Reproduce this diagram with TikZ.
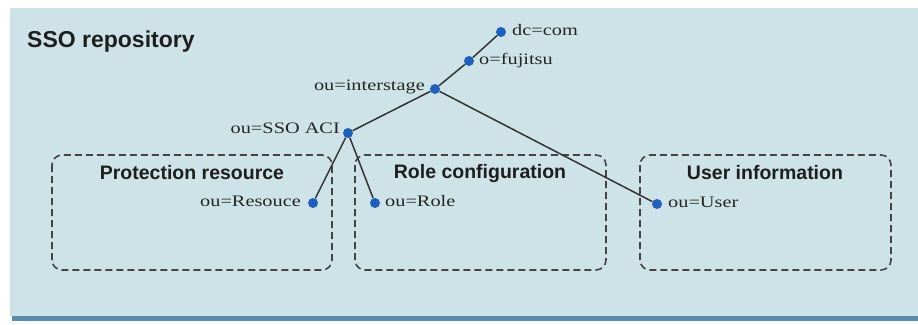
\documentclass[tikz,border=0pt]{standalone}
\usepackage{fontspec}
\setmainfont{Liberation Sans}
\newfontfamily\lblfont[FakeStretch=1.27]{Liberation Serif}
\definecolor{panelblue}{HTML}{CDE3E7}
\definecolor{edgeblue}{HTML}{5A8BB3}
\definecolor{boxgray}{HTML}{444444}
\definecolor{dotblue}{HTML}{1F5FBF}
\definecolor{linegray}{HTML}{333333}
\definecolor{textgray}{HTML}{262626}
\definecolor{titlegray}{HTML}{1E1E1E}
\begin{document}
\begin{tikzpicture}[x=1pt,y=-1pt,
  group/.style={draw=boxgray, line width=1.6pt, dash pattern=on 7pt off 4pt, rounded corners=10pt},
  grouptitle/.style={font=\fontsize{19.5}{22}\selectfont\bfseries, text=titlegray, inner sep=0pt},
  entry/.style={circle, fill=dotblue, inner sep=0pt, minimum size=10pt},
  dn/.style={font=\lblfont\fontsize{16}{18}\selectfont, text=textgray, inner sep=0pt},
  link/.style={draw=linegray, line width=1.5pt}
]
\useasboundingbox (0,0) rectangle (918,324);

% repository panel with its darker lower edge
\fill[edgeblue] (12,314) rectangle (918,321);
\fill[panelblue] (10,8) rectangle (918,316);
\node[font=\fontsize{23}{26}\selectfont\bfseries, text=titlegray, inner sep=0pt, anchor=base west] (repo) at (27,47) {SSO repository};

% dashed groups
\draw[group] (52,155) rectangle (332,270);
\draw[group] (355,155) rectangle (606,270);
\draw[group] (640,155) rectangle (891,270);
\node[grouptitle] (protT) at (192,173) {Protection resource};
\node[grouptitle] (roleT) at (480,173) {Role configuration};
\node[grouptitle] (userT) at (765,173) {User information};

% directory entries
\node[entry] (dc) at (501,32) {};
\node[entry] (o) at (469,61) {};
\node[entry] (inter) at (435,89) {};
\node[entry] (aci) at (348,133) {};
\node[entry] (res) at (313,203) {};
\node[entry] (role) at (375,203) {};
\node[entry] (user) at (657,204) {};

\node[dn, anchor=mid west] (dcL) at (512,33) {dc=com};
\node[dn, anchor=mid west] (oL) at (479,62) {o=fujitsu};
\node[dn, anchor=mid east] (interL) at (425,88) {ou=interstage};
\node[dn, anchor=mid east] (aciL) at (340,131) {ou=SSO ACI};
\node[dn, anchor=mid east] (resL) at (301,204) {ou=Resouce};
\node[dn, anchor=mid west] (roleL) at (385,204) {ou=Role};
\node[dn, anchor=mid west] (userL) at (668,205) {ou=User};

% tree links
\draw[link] (dc) -- (o);
\draw[link] (o) -- (inter);
\draw[link] (inter) -- (aci);
\draw[link] (inter) -- (user);
\draw[link] (aci) -- (res);
\draw[link] (aci) -- (role);
\end{tikzpicture}
\end{document}
